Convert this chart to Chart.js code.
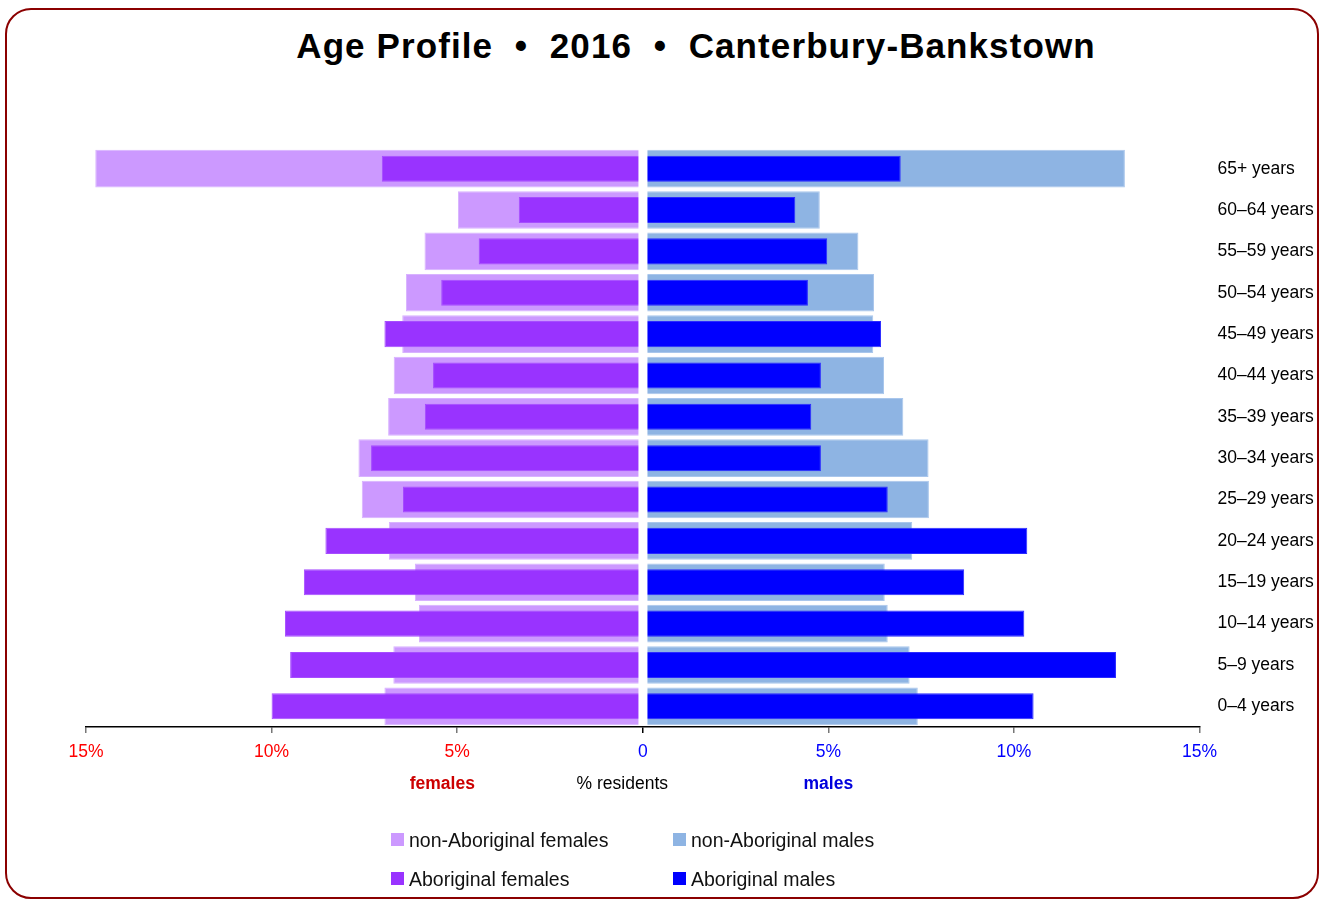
<!DOCTYPE html>
<html>
<head>
<meta charset="utf-8">
<script src="https://cdn.jsdelivr.net/npm/chart.js@4.4.1/dist/chart.umd.min.js"></script>
<style>
  html, body { margin: 0; padding: 0; background: #fff; }
  #wrap { position: relative; width: 1326px; height: 901px; overflow: hidden; }
  #frame { position: absolute; left: 5px; top: 8px; width: 1314px; height: 891px; box-sizing: border-box;
    border: 2.5px solid #8b0000; border-radius: 26px; }
  #title { position: absolute; left: 0; width: 1392px; top: 28px; text-align: center; white-space: pre;
    font: bold 35px "Liberation Sans", Arial, sans-serif; letter-spacing: 1.1px; line-height: 35px; color: #000; }
  #chart { position: absolute; left: 0; top: 0; }
  .leg { position: absolute; font: 19.5px "Liberation Sans", Arial, sans-serif; color: #111; line-height: 20px; }
  .leg i { position: absolute; left: 0; top: 3px; width: 13px; height: 13px; }
  .leg span { position: absolute; left: 18px; top: 0; white-space: nowrap; }
</style>
</head>
<body>
<div id="wrap">
  <div id="frame"></div>
  <div id="title">Age Profile  •  2016  •  Canterbury-Bankstown</div>
  <canvas id="chart" width="1326" height="901"></canvas>
  <div id="legend"></div>
</div>
<script>
const ageGroups = ['65+ years', '60–64 years', '55–59 years', '50–54 years', '45–49 years', '40–44 years',
  '35–39 years', '30–34 years', '25–29 years', '20–24 years', '15–19 years', '10–14 years', '5–9 years', '0–4 years'];
const nonAborigFemales = [14.75, 4.98, 5.88, 6.38, 6.48, 6.71, 6.86, 7.66, 7.57, 6.84, 6.14, 6.03, 6.72, 6.96];
const aborigFemales = [7.03, 3.34, 4.42, 5.43, 6.96, 5.65, 5.87, 7.32, 6.46, 8.55, 9.13, 9.64, 9.50, 10.0];
const nonAborigMales = [12.99, 4.77, 5.81, 6.23, 6.21, 6.50, 7.02, 7.70, 7.71, 7.26, 6.52, 6.60, 7.19, 7.41];
const aborigMales = [6.95, 4.11, 4.97, 4.45, 6.42, 4.80, 4.54, 4.80, 6.60, 10.36, 8.66, 10.28, 12.75, 10.53];
const xTicks = [-15, -10, -5, 0, 5, 10, 15];

const sans = '"Liberation Sans", Arial, sans-serif';

// white gap down the middle + the captions under the axis
const middlePlugin = {
  id: 'middle',
  afterDatasetsDraw(chart) {
    const ctx = chart.ctx, a = chart.chartArea;
    const x0 = chart.scales.x.getPixelForValue(0);
    ctx.save();
    ctx.fillStyle = '#fff';
    ctx.fillRect(x0 - 4.3, a.top - 2, 9, a.bottom - a.top + 1);
    ctx.restore();
  },
  afterDraw(chart) {
    const ctx = chart.ctx, x = chart.scales.x;
    ctx.save();
    ctx.textAlign = 'center';
    ctx.textBaseline = 'middle';
    ctx.font = 'bold 17.5px ' + sans;
    ctx.fillStyle = '#cc0000';
    ctx.fillText('females', x.getPixelForValue(-5.4), 784);
    ctx.fillStyle = '#0000dd';
    ctx.fillText('males', x.getPixelForValue(5.0), 784);
    ctx.fillStyle = '#000';
    ctx.font = '17.5px ' + sans;
    ctx.fillText('% residents', x.getPixelForValue(-0.55), 784);
    ctx.restore();
  }
};

const chart = new Chart(document.getElementById('chart'), {
  type: 'bar',
  data: {
    labels: ageGroups,
    datasets: [
      { label: 'non-Aboriginal females', data: nonAborigFemales.map(v => -v), backgroundColor: '#cc99ff',
        borderColor: '#d8b2ff', barPercentage: 0.91, order: 2 },
      { label: 'non-Aboriginal males', data: nonAborigMales, backgroundColor: '#8eb4e3',
        borderColor: '#a9c6ec', barPercentage: 0.91, order: 2 },
      { label: 'Aboriginal females', data: aborigFemales.map(v => -v), backgroundColor: '#9933ff',
        borderColor: '#a64dff', barPercentage: 0.63, order: 1 },
      { label: 'Aboriginal males', data: aborigMales, backgroundColor: '#0000ff',
        borderColor: '#2a2aff', barPercentage: 0.63, order: 1 }
    ]
  },
  options: {
    indexAxis: 'y',
    responsive: false,
    devicePixelRatio: 1,
    animation: false,
    datasets: { bar: { grouped: false, categoryPercentage: 1, borderWidth: 1 } },
    layout: { padding: { top: 148, left: 86, right: 0, bottom: 0 } },
    plugins: { legend: { display: false }, tooltip: { enabled: false } },
    scales: {
      x: {
        min: -15, max: 15,
        afterBuildTicks: s => { s.ticks = xTicks.map(v => ({ value: v })); },
        afterFit: s => { s.height = 174; },
        grid: { drawOnChartArea: false, drawTicks: true, tickLength: 6,
          color: c => c.tick && c.tick.value === 0 ? '#000' : '#777', lineWidth: 1.5 },
        border: { display: true, color: '#000', width: 1.5 },
        ticks: {
          padding: 9,
          font: { family: sans, size: 17.5 },
          color: c => c.tick.value < 0 ? '#ff0000' : '#0000ff',
          callback: v => v === 0 ? '0' : Math.abs(v) + '%'
        }
      },
      y: {
        position: 'right',
        afterFit: s => { s.width = 126.5; },
        grid: { display: false, drawTicks: false },
        border: { display: false },
        ticks: { padding: 18, crossAlign: 'near', color: '#000', font: { family: sans, size: 17.5 } }
      }
    }
  },
  plugins: [middlePlugin]
});

// legend in two columns, built from the datasets
const legendPos = [[391, 830], [673, 830], [391, 869], [673, 869]];
const legendBox = document.getElementById('legend');
chart.data.datasets.forEach((ds, i) => {
  const d = document.createElement('div');
  d.className = 'leg';
  d.style.left = legendPos[i][0] + 'px';
  d.style.top = legendPos[i][1] + 'px';
  d.innerHTML = '<i style="background:' + ds.backgroundColor + '"></i><span>' + ds.label + '</span>';
  legendBox.appendChild(d);
});
</script>
</body>
</html>
